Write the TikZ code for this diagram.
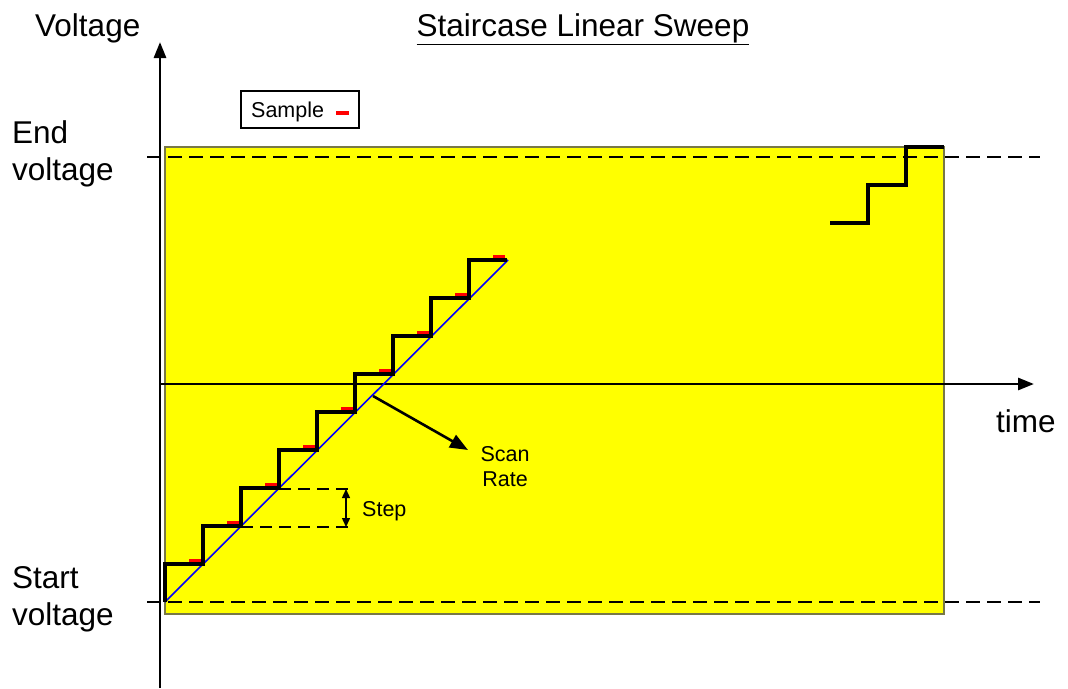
\documentclass[tikz,border=0pt]{standalone}
\usepackage{fontspec}
\setmainfont{Liberation Sans}
\usetikzlibrary{arrows.meta}
\definecolor{fillyellow}{RGB}{255,255,0}
\definecolor{rectedge}{RGB}{120,120,70}
\definecolor{samplered}{RGB}{255,0,0}
\definecolor{ratelblue}{RGB}{0,0,255}
\tikzset{
  bigtxt/.style={inner sep=0pt, font=\fontsize{31.5}{34}\selectfont},
  smalltxt/.style={inner sep=0pt, font=\fontsize{21.5}{24}\selectfont},
  axisline/.style={line width=2.8pt, -{Triangle[length=16pt,width=12pt]}},
  levelline/.style={line width=2.5pt, dash pattern=on 14pt off 7pt},
  stairline/.style={line width=3.3pt, line join=miter},
  samplemark/.style={line width=3.3pt, samplered},
  steplevel/.style={line width=2pt, dash pattern=on 12pt off 7pt},
}
\begin{document}
\begin{tikzpicture}[x=1pt,y=-1pt]
\useasboundingbox (0,0) rectangle (1068,688);
% yellow region
\filldraw[fill=fillyellow, draw=rectedge, line width=1.3pt] (165,147) rectangle (944,614);
% axes
\coordinate (yaxB) at (160,688);
\coordinate (yaxT) at (160,42);
\coordinate (xaxL) at (160,384);
\coordinate (xaxR) at (1034,384);
\draw[axisline] (yaxB) -- (yaxT);
\draw[axisline] (xaxL) -- (xaxR);
% level lines
\coordinate (endL) at (147,157);
\coordinate (endR) at (1040,157);
\coordinate (startL) at (147,602);
\coordinate (startR) at (1040,602);
\draw[levelline] (endL) -- (endR);
\draw[levelline] (startL) -- (startR);
% blue scan-rate line
\coordinate (rampS) at (165,602);
\coordinate (rampE) at (508,260);
\draw[ratelblue, line width=1.6pt] (rampS) -- (rampE);
% staircase
\draw[stairline] (165,602)
  \foreach \k in {1,...,9} { |- ({165+38*\k},{602-38*\k}) };
\foreach \k in {1,...,9} {
  \draw[samplemark] ({165+38*\k-14},{602-38*\k-3.5}) -- ({165+38*\k-2},{602-38*\k-3.5});
}
% top-right staircase
\draw[stairline] (830,223) -- (868,223) -- (868,185) -- (906,185) -- (906,147) -- (944,147);
% step indicator
\coordinate (stA) at (279,489);
\coordinate (stAe) at (350,489);
\coordinate (stB) at (241,527);
\coordinate (stBe) at (350,527);
\draw[steplevel] (stA) -- (stAe);
\draw[steplevel] (stB) -- (stBe);
\coordinate (arT) at (346,489);
\coordinate (arB) at (346,527);
\draw[line width=1.4pt, {Triangle[length=9pt,width=8pt]}-{Triangle[length=9pt,width=8pt]}] (arT) -- (arB);
\node[smalltxt, anchor=base west] (steplbl) at (362,516) {Step};
% scan rate arrow
\coordinate (srS) at (373,396);
\coordinate (srE) at (468,450);
\draw[line width=2.6pt, -{Triangle[length=18pt,width=14pt]}] (srS) -- (srE);
\node[smalltxt, anchor=base] (scan) at (505,461) {Scan};
\node[smalltxt, anchor=base] (rate) at (505,486) {Rate};
% sample legend
\node[draw, line width=1.3pt, minimum width=118pt, minimum height=37pt, inner sep=0pt] (legend) at (300,109.5) {};
\node[smalltxt, anchor=base west] (samplelbl) at (251,117) {Sample};
\draw[samplemark] (336,113) -- (349,113);
% labels
\node[bigtxt, anchor=base west] (vlab) at (35,36) {Voltage};
\node[bigtxt, anchor=base] (title) at (583,36) {\underline{Staircase Linear Sweep}};
\node[bigtxt, anchor=base west] (end1) at (12,143) {End};
\node[bigtxt, anchor=base west] (end2) at (12,180) {voltage};
\node[bigtxt, anchor=base west] (start1) at (12,588) {Start};
\node[bigtxt, anchor=base west] (start2) at (12,625) {voltage};
\node[bigtxt, anchor=base west] (tlab) at (996,432) {time};
\end{tikzpicture}
\end{document}
